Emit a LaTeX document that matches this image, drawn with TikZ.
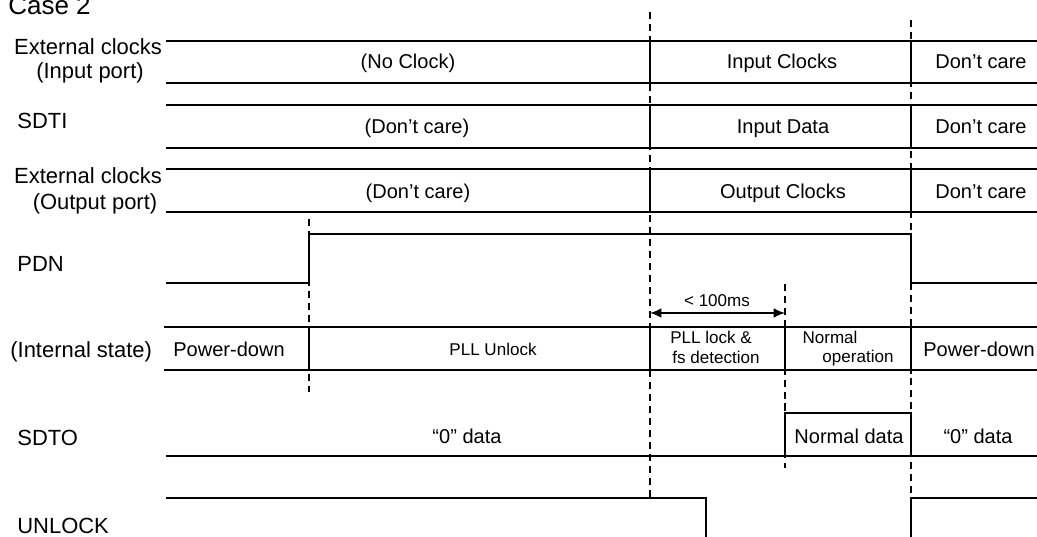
\documentclass[tikz,border=0pt]{standalone}
\usepackage{fontspec}
\setmainfont{Liberation Sans}
\usepackage{tikz}
\usetikzlibrary{positioning}
\usetikzlibrary{arrows.meta}
\tikzstyle{wave} = [line width=0.9pt]
\tikzstyle{guide} = [line width=0.7pt,dash pattern=on 4pt off 2.8pt]
\tikzstyle{arrow} = [line width=0.9pt,{Latex[length=6.5pt,width=5.5pt]}-{Latex[length=6.5pt,width=5.5pt]}]
\tikzstyle{signame} = [inner sep=0pt,anchor=base west,font=\fontsize{12.5}{14}\selectfont]
\tikzstyle{bustext} = [inner sep=0pt,anchor=base,font=\fontsize{11.4}{13}\selectfont]
\tikzstyle{smalltext} = [inner sep=0pt,anchor=base,font=\fontsize{9.7}{11}\selectfont]

\begin{document}
\begin{tikzpicture}[x=0.02cm,y=-0.02cm]
\useasboundingbox (0,0) rectangle (1037,537);

%Signal names
\node[signame,font=\fontsize{14.8}{16}\selectfont] (case) at (8,15) {Case 2};
\node[signame,anchor=base] (extin) at (88,55) {External clocks};
\node[signame,anchor=base] (extinport) at (90,79) {(Input port)};
\node[signame] (sdti) at (17,129) {SDTI};
\node[signame,anchor=base] (extout) at (88,183) {External clocks};
\node[signame,anchor=base] (extoutport) at (95,209) {(Output port)};
\node[signame] (pdn) at (17,271) {PDN};
\node[signame] (istate) at (10,357) {(Internal state)};
\node[signame] (sdto) at (17,445) {SDTO};
\node[signame] (unlock) at (17,533) {UNLOCK};

%Dashed guides
\draw[guide] (309,219) -- (309,392);
\draw[guide] (650,12) -- (650,498);
\draw[guide] (785,284) -- (785,468);
\draw[guide] (911,20) -- (911,498);

%Buses
\foreach \t/\b in {41/83,105/148,169/212}{
  \draw[wave] (166,\t) -- (1037,\t);
  \draw[wave] (166,\b) -- (1037,\b);
  \draw[wave] (650,\t) -- (650,\b);
  \draw[wave] (911,\t) -- (911,\b);
}
\node[bustext] (noclk) at (408,69) {(No Clock)};
\node[bustext] (inclk) at (782,69) {Input Clocks};
\node[bustext] (dc1) at (981,69) {Don’t care};
\node[bustext] (sdtidc) at (417,133) {(Don’t care)};
\node[bustext] (indata) at (783,133) {Input Data};
\node[bustext] (dc2) at (981,133) {Don’t care};
\node[bustext] (outdc) at (418,198) {(Don’t care)};
\node[bustext] (outclk) at (783,198) {Output Clocks};
\node[bustext] (dc3) at (981,198) {Don’t care};

%PDN
\draw[wave] (166,283) -- (309,283) -- (309,234) -- (911,234) -- (911,283) -- (1037,283);

%Internal state
\draw[wave] (164,327) -- (1037,327);
\draw[wave] (164,370) -- (1037,370);
\foreach \x in {309,650,785,911} \draw[wave] (\x,327) -- (\x,370);
\node[bustext] (pd1) at (229,356) {Power-down};
\node[smalltext] (pllun) at (493,355) {PLL Unlock};
\node[smalltext] (plllock) at (711,343) {PLL lock \&};
\node[smalltext] (fsdet) at (716,363) {fs detection};
\node[smalltext] (normal) at (830,343) {Normal};
\node[smalltext] (oper) at (858,362) {operation};
\node[bustext] (pd2) at (979,356) {Power-down};

%Lock time
\coordinate (t0) at (650,313);
\coordinate (t1) at (785,313);
\draw[arrow] (t0) -- (t1);
\node[smalltext] (lim) at (717,306) {< 100ms};

%SDTO
\draw[wave] (166,456) -- (1037,456);
\draw[wave] (785,456) -- (785,413) -- (911,413) -- (911,456);
\node[bustext] (zero1) at (467,443) {“0” data};
\node[bustext] (normdata) at (849,443) {Normal data};
\node[bustext] (zero2) at (978,443) {“0” data};

%UNLOCK
\draw[wave] (166,498) -- (706,498) -- (706,540);
\draw[wave] (911,540) -- (911,498) -- (1037,498);
\end{tikzpicture}
\end{document}
